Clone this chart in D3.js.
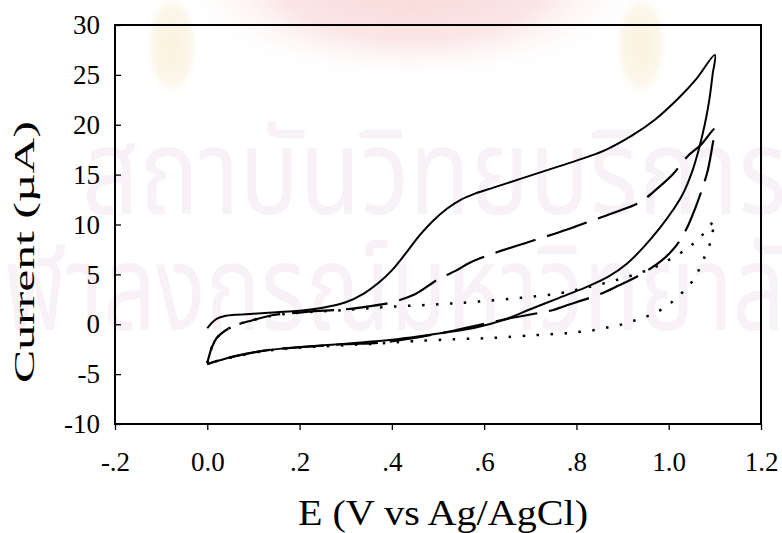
<!DOCTYPE html>
<html>
<head>
<meta charset="utf-8">
<script src="https://cdn.jsdelivr.net/npm/d3@7"></script>
<style>
  body { margin: 0; background: #fff; }
  svg { display: block; }
  text { font-family: "Liberation Serif", "Times New Roman", serif; fill: #000; }
</style>
</head>
<body>
<div id="chart"></div>
<script>
// forward scan then reverse scan, E in V, I in uA
const solidE = [0.000, 0.010, 0.020, 0.040, 0.060, 0.100, 0.150, 0.200, 0.250, 0.300, 0.340, 0.370, 0.400, 0.430, 0.460, 0.490, 0.520, 0.550, 0.580, 0.620, 0.680, 0.740, 0.800, 0.860, 0.920, 0.970, 1.020, 1.060, 1.100,
                1.095, 1.088, 1.078, 1.065, 1.050, 1.030, 1.010, 0.980, 0.945, 0.910, 0.870, 0.820, 0.760, 0.700, 0.640, 0.580, 0.520, 0.460, 0.400, 0.340, 0.270, 0.200, 0.130, 0.060, 0.020, 0.000];
const solidI = [-0.4, 0.15, 0.55, 0.85, 0.95, 1.05, 1.2, 1.35, 1.65, 2.2, 3.1, 4.1, 5.4, 7.1, 8.9, 10.4, 11.6, 12.5, 13.1, 13.7, 14.6, 15.5, 16.4, 17.4, 18.9, 20.5, 22.6, 24.6, 27.0,
                25.0, 22.5, 20.0, 17.5, 15.2, 13.0, 11.5, 9.6, 7.7, 6.1, 4.8, 3.7, 2.6, 1.5, 0.4, -0.35, -0.8, -1.2, -1.55, -1.8, -2.05, -2.3, -2.6, -3.2, -3.7, -4.0];

const dashedE = [0.000, 0.010, 0.020, 0.040, 0.065, 0.090, 0.140, 0.180, 0.220, 0.300, 0.350, 0.400, 0.450, 0.500, 0.540, 0.570, 0.620, 0.700, 0.780, 0.840, 0.900, 0.940, 0.980, 1.010, 1.040, 1.070, 1.100,
                 1.095, 1.085, 1.072, 1.058, 1.040, 1.015, 0.985, 0.940, 0.890, 0.850, 0.770, 0.750, 0.656, 0.533, 0.446, 0.374, 0.300, 0.200, 0.130, 0.060, 0.020, 0.000];
const dashedI = [-3.9, -2.3, -1.4, -0.6, -0.05, 0.3, 0.9, 1.1, 1.27, 1.5, 1.8, 2.2, 3.0, 4.5, 5.4, 6.2, 7.1, 8.3, 9.5, 10.5, 11.5, 12.3, 13.8, 15.1, 16.8, 18.0, 19.6,
                 18.0, 15.5, 13.5, 11.7, 9.7, 7.8, 6.4, 5.0, 3.85, 3.0, 1.76, 1.43, 0.6, -0.65, -1.4, -1.85, -2.0, -2.3, -2.6, -3.2, -3.7, -4.0];

const dottedE = [0.000, 0.010, 0.020, 0.040, 0.065, 0.090, 0.140, 0.200, 0.300, 0.400, 0.500, 0.583, 0.680, 0.764, 0.824, 0.887, 0.945, 0.974, 1.037, 1.070, 1.093, 1.100,
                 1.097, 1.091, 1.079, 1.066, 1.048, 1.020, 0.991, 0.960, 0.930, 0.900, 0.870, 0.840, 0.808, 0.778, 0.714, 0.627, 0.540, 0.446, 0.374, 0.300, 0.200, 0.130, 0.060, 0.020, 0.000];
const dottedI = [-3.9, -2.3, -1.4, -0.6, -0.05, 0.3, 0.85, 1.15, 1.43, 1.76, 2.0, 2.26, 2.65, 3.1, 3.7, 4.44, 5.27, 5.8, 7.5, 8.8, 10.1, 10.3,
                 9.7, 8.3, 6.9, 5.5, 4.1, 2.76, 1.66, 0.93, 0.43, 0.0, -0.3, -0.58, -0.75, -0.9, -1.08, -1.35, -1.5, -1.7, -1.92, -2.1, -2.35, -2.65, -3.25, -3.7, -4.0];

const xTicks = [-0.2, 0, 0.2, 0.4, 0.6, 0.8, 1.0, 1.2];
const xTickLabels = ['-.2', '0.0', '.2', '.4', '.6', '.8', '1.0', '1.2'];
const yTicks = [-10, -5, 0, 5, 10, 15, 20, 25, 30];

const width = 782;
const height = 533;
const plot = { left: 115, right: 761, top: 25, bottom: 424 };

const svg = d3.select('#chart').append('svg').attr('width', width).attr('height', height);

// faint thesis watermark behind the chart
const defs = svg.append('defs');
const band = defs.append('radialGradient').attr('id', 'band');
band.append('stop').attr('offset', '0%').attr('stop-color', '#f9d8d8');
band.append('stop').attr('offset', '55%').attr('stop-color', '#fbe6e6');
band.append('stop').attr('offset', '100%').attr('stop-color', '#ffffff').attr('stop-opacity', 0);
const tassel = defs.append('radialGradient').attr('id', 'tassel');
tassel.append('stop').attr('offset', '0%').attr('stop-color', '#faf2dc');
tassel.append('stop').attr('offset', '70%').attr('stop-color', '#fcf7ec');
tassel.append('stop').attr('offset', '100%').attr('stop-color', '#ffffff').attr('stop-opacity', 0);

const wm = svg.append('g').attr('class', 'watermark');
wm.append('ellipse').attr('cx', 412).attr('cy', -15).attr('rx', 240).attr('ry', 100).attr('fill', 'url(#band)');
wm.append('ellipse').attr('cx', 172).attr('cy', 45).attr('rx', 28).attr('ry', 55).attr('fill', 'url(#tassel)');
wm.append('ellipse').attr('cx', 641).attr('cy', 45).attr('rx', 28).attr('ry', 55).attr('fill', 'url(#tassel)');
wm.append('text').attr('x', 82).attr('y', 214).attr('textLength', 705).attr('lengthAdjust', 'spacingAndGlyphs')
    .style('font-family', '"Noto Sans Thai", "Noto Sans", sans-serif').style('font-size', '120px').style('fill', '#f8f1f7')
    .text('สถาบันวิทยบริการ');
wm.append('text').attr('x', -45).attr('y', 330).attr('textLength', 885).attr('lengthAdjust', 'spacingAndGlyphs')
    .style('font-family', '"Noto Sans Thai", "Noto Sans", sans-serif').style('font-size', '120px').style('fill', '#f8f1f7')
    .text('จุฬาลงกรณ์มหาวิทยาลัย');

const x = d3.scaleLinear().domain([-0.2, 1.2]).range([plot.left, plot.right]);
const y = d3.scaleLinear().domain([-10, 30]).range([plot.bottom, plot.top]);

const line = d3.line()
    .x(d => x(d[0]))
    .y(d => y(d[1]))
    .curve(d3.curveCatmullRom.alpha(0.5));

const series = [
    { E: solidE, I: solidI, dash: null, w: 2 },
    { E: dashedE, I: dashedI, dash: '42,12', w: 2.2 },
    { E: dottedE, I: dottedI, dash: '2.5,11.5', w: 2.5 }
];

series.forEach(s => {
    const pts = s.E.map((e, i) => [e, s.I[i]]);
    svg.append('path')
        .datum(pts)
        .attr('d', line)
        .attr('fill', 'none')
        .attr('stroke', '#000')
        .attr('stroke-width', s.w)
        .attr('stroke-dasharray', s.dash);
});

const xAxis = svg.append('g')
    .attr('transform', `translate(0,${plot.bottom})`)
    .call(d3.axisBottom(x).tickValues(xTicks).tickFormat((d, i) => xTickLabels[i]).tickSizeInner(6).tickSizeOuter(0).tickPadding(22));

const yAxis = svg.append('g')
    .attr('transform', `translate(${plot.left},0)`)
    .call(d3.axisLeft(y).tickValues(yTicks).tickFormat(d => String(d)).tickSizeInner(-6).tickSizeOuter(0).tickPadding(15));

[xAxis, yAxis].forEach(g => {
    g.select('.domain').remove();
    g.selectAll('line').attr('stroke', '#000').attr('stroke-width', 1.3);
    g.selectAll('text').style('font-size', '27px').style('font-family', '"Liberation Serif", serif');
});

svg.append('rect')
    .attr('x', plot.left)
    .attr('y', plot.top)
    .attr('width', plot.right - plot.left)
    .attr('height', plot.bottom - plot.top)
    .attr('fill', 'none')
    .attr('stroke', '#000')
    .attr('stroke-width', 2);

svg.append('text')
    .attr('x', 443)
    .attr('y', 525)
    .attr('text-anchor', 'middle')
    .attr('textLength', 290)
    .attr('lengthAdjust', 'spacingAndGlyphs')
    .style('font-size', '35px')
    .text('E (V vs Ag/AgCl)');

svg.append('text')
    .attr('transform', 'translate(34,252) rotate(-90)')
    .attr('text-anchor', 'middle')
    .attr('textLength', 262)
    .attr('lengthAdjust', 'spacingAndGlyphs')
    .style('font-size', '30px')
    .text('Current (\u00b5A)');
</script>
</body>
</html>
